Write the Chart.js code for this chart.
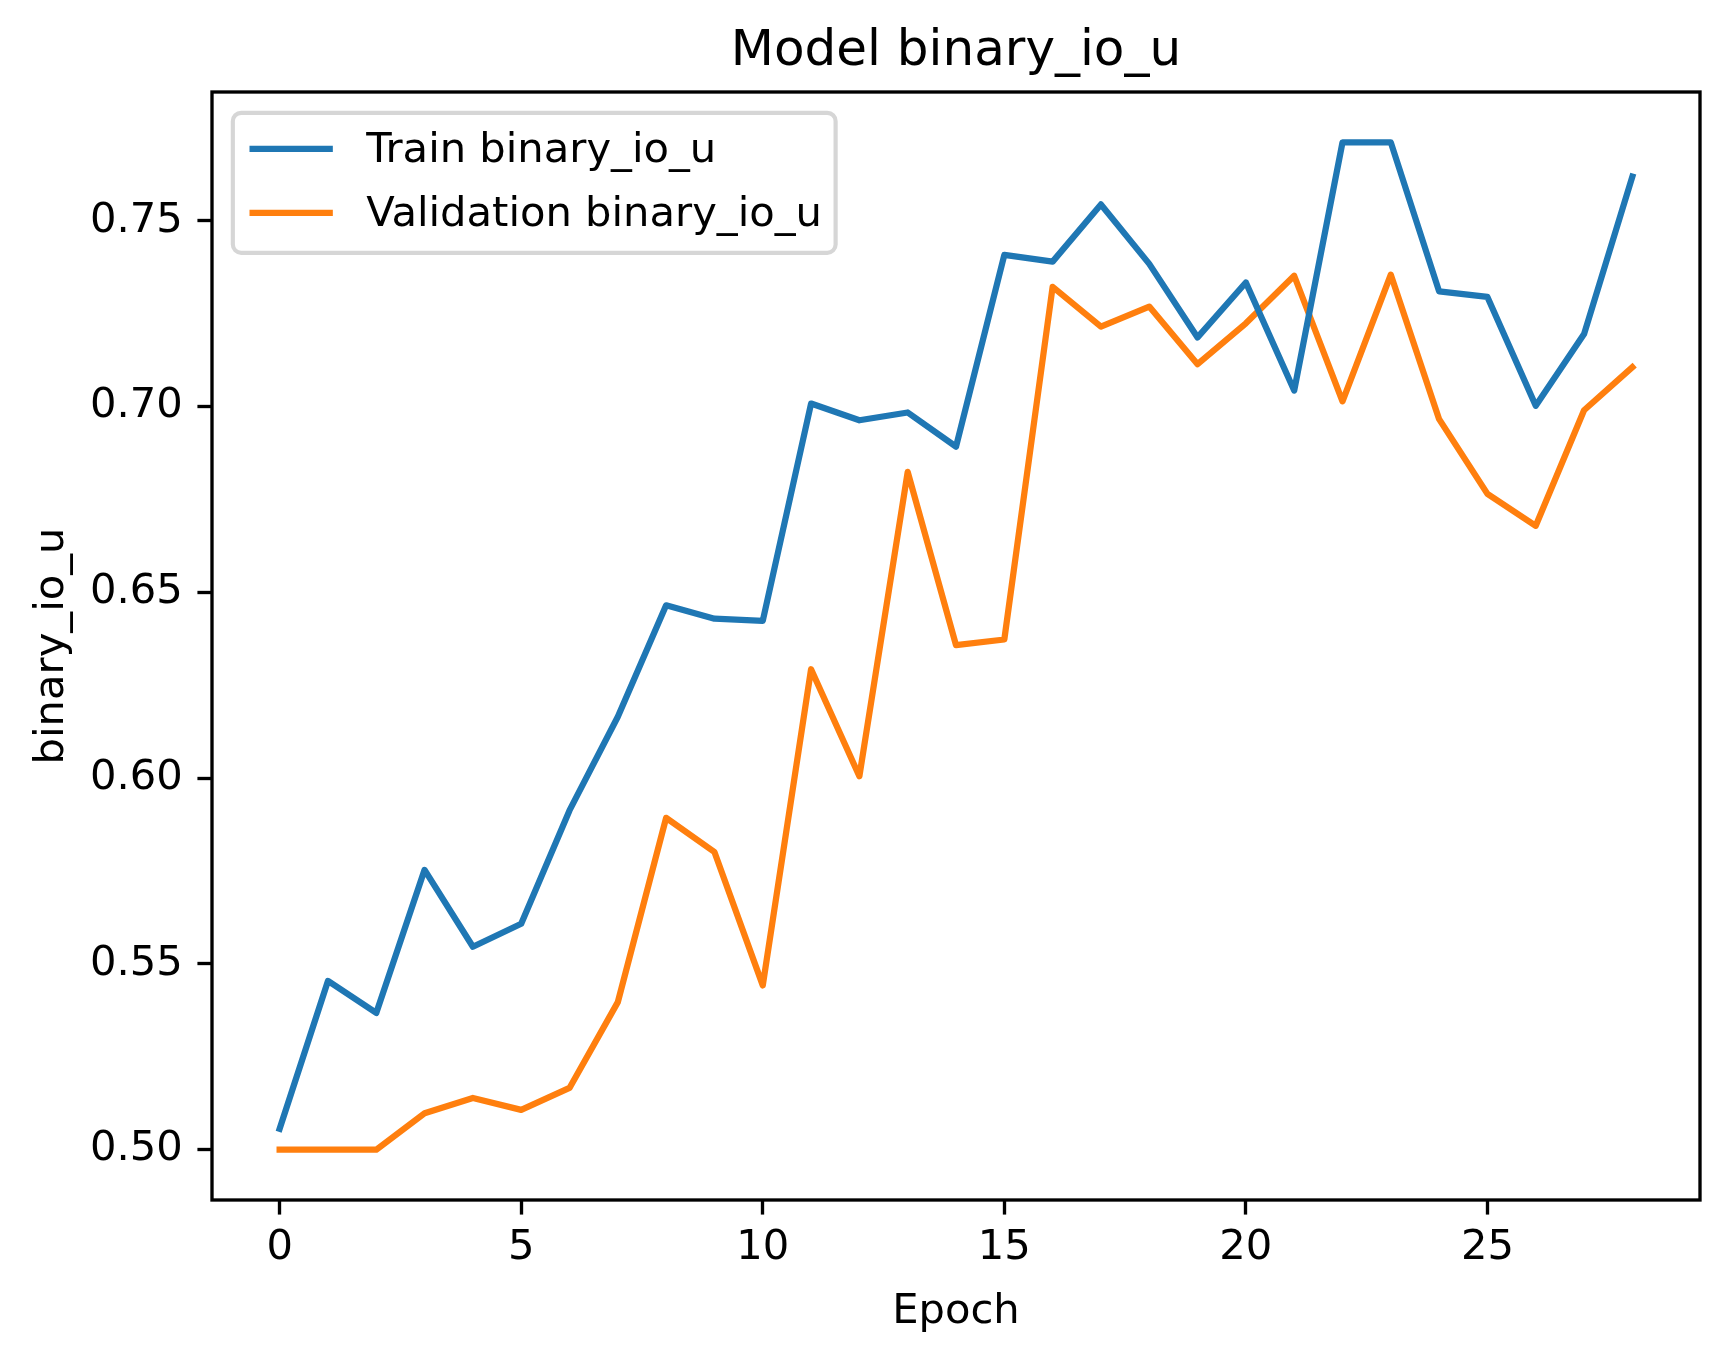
<!DOCTYPE html>
<html>
<head>
<meta charset="utf-8">
<script src="https://cdn.jsdelivr.net/npm/chart.js@4.4.1/dist/chart.umd.min.js"></script>
<style>
    html, body { margin: 0; padding: 0; background: #ffffff; }
    #chart-box { width: 1729px; height: 1361px; }
</style>
</head>
<body>
<div id="chart-box"><canvas id="iou-chart" width="1729" height="1361"></canvas></div>
<script>
// epochs on the x axis
const epochs = [0, 1, 2, 3, 4, 5, 6, 7, 8, 9, 10, 11, 12, 13, 14, 15, 16, 17, 18, 19, 20, 21, 22, 23, 24, 25, 26, 27, 28];

// values
const trainIou = [0.5056, 0.5454, 0.5368, 0.5753, 0.5546, 0.5608, 0.5913, 0.6165, 0.6465, 0.6429,
    0.6423, 0.7008, 0.6963, 0.6984, 0.6892, 0.7408, 0.7390, 0.7544, 0.7384, 0.7186,
    0.7334, 0.7043, 0.7711, 0.7711, 0.7310, 0.7295, 0.7002, 0.7195, 0.7619];
const valIou = [0.5000, 0.5000, 0.5000, 0.5098, 0.5139, 0.5107, 0.5166, 0.5397, 0.5893, 0.5801,
    0.5442, 0.6293, 0.6005, 0.6824, 0.6358, 0.6373, 0.7322, 0.7215, 0.7269, 0.7114,
    0.7224, 0.7352, 0.7014, 0.7355, 0.6966, 0.6765, 0.6679, 0.6990, 0.7106];

const xTicks = [0, 5, 10, 15, 20, 25];
const yTicks = [0.50, 0.55, 0.60, 0.65, 0.70, 0.75];

const seriesLabels = ['Train binary_io_u', 'Validation binary_io_u'];
const seriesColors = ['#1f77b4', '#ff7f0e'];

const FONT = "'DejaVu Sans', 'Liberation Sans', sans-serif";
const PT = 300 / 72; // figure was saved at 300 dpi

// matplotlib style 5% margins around the data
function margins(lo, hi) {
    const span = hi - lo;
    return [lo - span * 0.05, hi + span * 0.05];
}
const allY = trainIou.concat(valIou);
const [yMin, yMax] = margins(Math.min(...allY), Math.max(...allY));
const [xMin, xMax] = margins(epochs[0], epochs[epochs.length - 1]);

function toPoints(values) {
    return epochs.map((e, i) => ({x: e, y: values[i]}));
}

// title, frame and inside legend, drawn the way matplotlib lays them out
const decorations = {
    id: 'decorations',
    afterDraw(chart) {
        const ctx = chart.ctx;
        const area = chart.chartArea;
        ctx.save();

        // frame
        ctx.strokeStyle = '#000000';
        ctx.lineWidth = 0.8 * PT;
        ctx.strokeRect(area.left, area.top, area.right - area.left, area.bottom - area.top);

        // title
        ctx.fillStyle = '#000000';
        ctx.font = (12 * PT) + 'px ' + FONT;
        ctx.textAlign = 'center';
        ctx.textBaseline = 'alphabetic';
        ctx.fillText('Model binary_io_u', (area.left + area.right) / 2, area.top - 6 * PT - 2);

        // legend
        const fs = 10 * PT;
        ctx.font = fs + 'px ' + FONT;
        let textW = 0;
        seriesLabels.forEach((l) => {
            textW = Math.max(textW, ctx.measureText(l).width);
        });
        const left = area.left + 0.5 * fs;
        const top = area.top + 0.5 * fs;
        const pad = 0.4 * fs;
        const handle = 2 * fs;
        const gap = 0.8 * fs;
        const rowH = 64;
        const w = pad * 2 + handle + gap + textW - 3;
        const h = 140;
        ctx.beginPath();
        ctx.roundRect(left, top, w, h, 0.2 * fs);
        ctx.fillStyle = 'rgba(255,255,255,0.8)';
        ctx.fill();
        ctx.strokeStyle = '#d6d6d6';
        ctx.lineWidth = PT;
        ctx.stroke();

        ctx.textAlign = 'left';
        ctx.textBaseline = 'middle';
        seriesLabels.forEach((l, i) => {
            const cy = top + 38 + i * rowH;
            ctx.strokeStyle = seriesColors[i];
            ctx.lineWidth = 1.5 * PT;
            ctx.beginPath();
            ctx.moveTo(left + pad, cy - 2);
            ctx.lineTo(left + pad + handle, cy - 2);
            ctx.stroke();
            ctx.fillStyle = '#000000';
            ctx.fillText(l, left + pad + handle + gap, cy);
        });
        ctx.restore();
    }
};

const tickFont = {family: FONT, size: 10 * PT};

new Chart(document.querySelector('#iou-chart'), {
    type: 'line',
    data: {
        datasets: [
            {
                label: seriesLabels[0],
                data: toPoints(trainIou),
                borderColor: seriesColors[0],
                backgroundColor: seriesColors[0],
                borderWidth: 1.5 * PT,
                pointRadius: 0,
                tension: 0,
                borderJoinStyle: 'round',
                borderCapStyle: 'square',
            },
            {
                label: seriesLabels[1],
                data: toPoints(valIou),
                borderColor: seriesColors[1],
                backgroundColor: seriesColors[1],
                borderWidth: 1.5 * PT,
                pointRadius: 0,
                tension: 0,
                borderJoinStyle: 'round',
                borderCapStyle: 'square',
            }
        ]
    },
    options: {
        responsive: false,
        animation: false,
        devicePixelRatio: 1,
        layout: {padding: {top: 92, right: 29, left: 0, bottom: 0}},
        plugins: {
            legend: {display: false},
            title: {display: false},
            tooltip: {enabled: false},
        },
        scales: {
            x: {
                type: 'linear',
                min: xMin,
                max: xMax,
                afterBuildTicks: (scale) => {
                    scale.ticks = xTicks.map((v) => ({value: v}));
                },
                afterFit: (scale) => {
                    scale.height = 161;
                },
                ticks: {
                    color: '#000000',
                    font: tickFont,
                    padding: 3.5 * PT - 6,
                    maxRotation: 0,
                    callback: (v) => String(v),
                },
                grid: {
                    drawOnChartArea: false,
                    drawTicks: true,
                    tickLength: 3.5 * PT,
                    tickWidth: 0.8 * PT,
                    tickColor: '#000000',
                },
                border: {display: false},
                title: {
                    display: true,
                    text: 'Epoch',
                    color: '#000000',
                    font: tickFont,
                    padding: {top: 0, bottom: 24},
                },
            },
            y: {
                type: 'linear',
                min: yMin,
                max: yMax,
                afterBuildTicks: (scale) => {
                    scale.ticks = yTicks.map((v) => ({value: v}));
                },
                afterFit: (scale) => {
                    scale.width = 212;
                },
                ticks: {
                    color: '#000000',
                    font: tickFont,
                    padding: 3.5 * PT,
                    callback: (v) => v.toFixed(2),
                },
                grid: {
                    drawOnChartArea: false,
                    drawTicks: true,
                    tickLength: 3.5 * PT,
                    tickWidth: 0.8 * PT,
                    tickColor: '#000000',
                },
                border: {display: false},
                title: {
                    display: true,
                    text: 'binary_io_u',
                    color: '#000000',
                    font: tickFont,
                    padding: {top: 27, bottom: 0},
                },
            }
        }
    },
    plugins: [decorations]
});
</script>
</body>
</html>
